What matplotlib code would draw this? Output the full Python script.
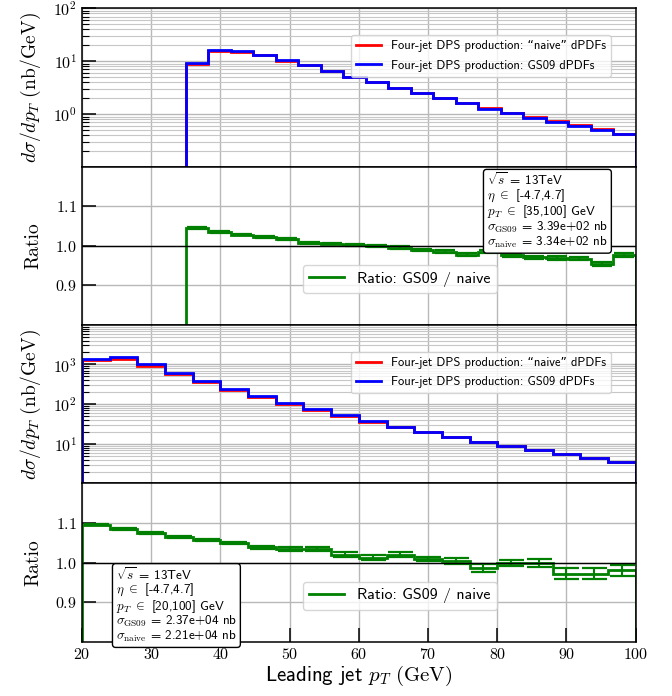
# Four-jet DPS: leading jet pT spectra, GS09 vs naive dPDFs, with ratio panels

import matplotlib
matplotlib.use("Agg")
import matplotlib.pyplot as plt
import numpy as np

plt.rcParams['font.family'] = ['cmr10', 'DejaVu Serif']
plt.rcParams['mathtext.fontset'] = 'cm'
plt.rcParams['axes.formatter.use_mathtext'] = True
plt.rcParams['axes.unicode_minus'] = False

SANS = ['cmss10', 'DejaVu Sans']

# --- data ---
# pT in [35,100], 20 bins
edges_hi = np.linspace(35, 100, 21)
gs09_hi = [9.2, 16.2, 15.5, 13.2, 10.4, 8.4, 6.5, 5.1, 4.0, 3.15,
           2.5, 1.99, 1.6, 1.28, 1.04, 0.865, 0.715, 0.60, 0.50, 0.417]
naive_hi = [8.8, 15.65, 15.07, 12.9, 10.23, 8.34, 6.46, 5.09, 4.0, 3.16,
            2.53, 2.02, 1.64, 1.30, 1.065, 0.885, 0.735, 0.615, 0.52, 0.425]
ratio_hi = [1.0445, 1.035, 1.0286, 1.0227, 1.0168, 1.0076, 1.0059, 1.0017, 0.9992, 0.9958,
            0.989, 0.9857, 0.978, 0.9857, 0.9765, 0.9714, 0.9697, 0.968, 0.9538, 0.9765]
rerr_hi = [0.002, 0.002, 0.002, 0.002, 0.002, 0.002, 0.002, 0.0025, 0.0025, 0.003,
           0.003, 0.003, 0.0035, 0.0035, 0.004, 0.004, 0.0045, 0.0045, 0.005, 0.005]

# pT in [20,100], 20 bins
edges_lo = np.linspace(20, 100, 21)
gs09_lo = [1390, 1530, 1000, 614, 378, 241, 157, 105, 74, 52,
           37, 27.4, 20.1, 15.3, 11.4, 8.9, 6.9, 5.45, 4.4, 3.5]
naive_lo = [1268, 1410, 931, 577, 358, 230, 151, 101.5, 71.6, 51,
            36.6, 26.9, 19.9, 15.2, 11.5, 8.9, 6.9, 5.6, 4.5, 3.57]
ratio_lo = [1.096, 1.085, 1.074, 1.065, 1.056, 1.050, 1.038, 1.034, 1.034, 1.020,
            1.012, 1.020, 1.009, 1.004, 0.987, 0.999, 0.999, 0.972, 0.972, 0.980]
rerr_lo = [0.002, 0.002, 0.002, 0.0025, 0.0025, 0.003, 0.003, 0.004, 0.004, 0.006,
           0.006, 0.0065, 0.006, 0.0085, 0.010, 0.0085, 0.010, 0.0145, 0.0145, 0.015]

info_hi = [r'$\sqrt{s}$ = 13TeV', r'$\eta\ \in$ [-4.7,4.7]', r'$p_T\ \in$ [35,100] GeV',
           r'$\sigma_{\rm GS09}$ = 3.39e+02 nb', r'$\sigma_{\rm naive}$ = 3.34e+02 nb']
info_lo = [r'$\sqrt{s}$ = 13TeV', r'$\eta\ \in$ [-4.7,4.7]', r'$p_T\ \in$ [20,100] GeV',
           r'$\sigma_{\rm GS09}$ = 2.37e+04 nb', r'$\sigma_{\rm naive}$ = 2.21e+04 nb']

lab_naive = 'Four-jet DPS production: \u201cnaive\u201d dPDFs'
lab_gs09 = 'Four-jet DPS production: GS09 dPDFs'
lab_ratio = 'Ratio: GS09 / naive'


def style_axis(ax):
  ax.set_axisbelow(True)
  ax.tick_params(which='major', direction='in', length=10, width=1.1, labelsize=11.5)
  ax.tick_params(which='minor', direction='in', length=5, width=0.8)
  for s in ax.spines.values():
    s.set_linewidth(1.1)


def spectrum_panel(ax, edges, naive, gs09, ylim):
  ax.stairs(naive, edges, baseline=1e-3, color='red', lw=2, label=lab_naive)
  ax.stairs(gs09, edges, baseline=1e-3, color='blue', lw=2, label=lab_gs09)
  ax.set_yscale('log')
  ax.set_ylim(*ylim)
  ax.grid(True, which='major', color='0.72', lw=1)
  ax.grid(True, which='minor', axis='y', color='0.78', lw=0.8)
  ax.set_ylabel(r'$d\sigma/dp_T\ \mathrm{(nb/GeV)}$', fontsize=14)
  ax.legend(loc='upper right', bbox_to_anchor=(0.955, 0.83), borderaxespad=0,
            prop={'family': SANS, 'size': 9}, handlelength=2.0, labelspacing=0.6)
  style_axis(ax)


def ratio_panel(ax, edges, ratio, err, info, info_xy, capsize):
  centers = edges[:-1] + np.diff(edges) / 2
  ax.stairs(ratio, edges, baseline=0, color='green', lw=2, label=lab_ratio)
  ax.errorbar(centers, ratio, yerr=err, fmt='none', ecolor='green',
              elinewidth=1.5, capsize=capsize, capthick=1.6)
  ax.axhline(1.0, color='black', lw=1)
  ax.set_ylim(0.8, 1.2)
  ax.set_yticks([0.9, 1.0, 1.1])
  ax.grid(True, which='major', color='0.72', lw=1)
  ax.set_ylabel('Ratio', fontsize=14)
  ax.legend(loc='center', bbox_to_anchor=(0.574, 0.29),
            prop={'family': SANS, 'size': 11.5}, handlelength=2.2)
  ax.text(info_xy[0], info_xy[1], '\n'.join(info), transform=ax.transAxes,
          ha='left', va='top', fontsize=9.5, family=SANS, linespacing=0.95,
          bbox=dict(boxstyle='round,pad=0.25', fc='white', ec='black', lw=1))
  style_axis(ax)


fig = plt.figure(figsize=(6.72, 6.96), dpi=100)
gs = fig.add_gridspec(4, 1, left=0.122, right=0.946, top=0.988, bottom=0.078, hspace=0)
ax1 = fig.add_subplot(gs[0])
ax2 = fig.add_subplot(gs[1], sharex=ax1)
ax3 = fig.add_subplot(gs[2], sharex=ax1)
ax4 = fig.add_subplot(gs[3], sharex=ax1)

spectrum_panel(ax1, edges_hi, naive_hi, gs09_hi, (0.102, 100))
ratio_panel(ax2, edges_hi, ratio_hi, rerr_hi, info_hi, (0.731, 0.97), 7.5)
spectrum_panel(ax3, edges_lo, naive_lo, gs09_lo, (1.02, 9.8e3))
ratio_panel(ax4, edges_lo, ratio_lo, rerr_lo, info_lo, (0.061, 0.48), 9)

ax1.set_xlim(20, 100)
for ax in (ax1, ax2, ax3):
  ax.tick_params(axis='x', length=0, labelbottom=False)

ax4.set_xlabel('Leading jet $p_T\\ \\mathrm{(GeV)}$', fontsize=15, family=SANS, labelpad=2)

for ax in (ax1, ax3):
  ax.yaxis.set_label_coords(-0.07, 0.5)
for ax in (ax2, ax4):
  ax.yaxis.set_label_coords(-0.072, 0.5)

fig.savefig('out.png', dpi=100)
